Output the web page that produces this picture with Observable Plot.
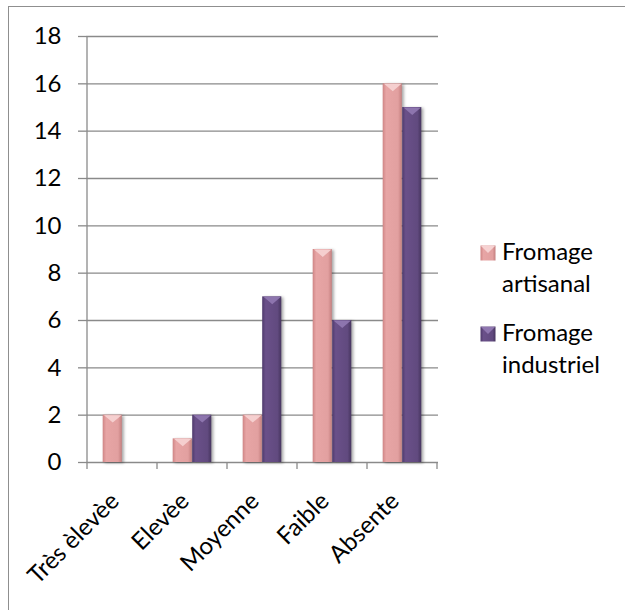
<!DOCTYPE html>
<html>
<head>
<meta charset="utf-8">
<script src="https://cdn.jsdelivr.net/npm/d3@7"></script>
<script src="https://cdn.jsdelivr.net/npm/@observablehq/plot@0.6"></script>
<style>
  html, body { margin: 0; padding: 0; background: #fff; overflow: hidden; }
  #wrap { position: relative; width: 625px; height: 610px; font-family: Lato, "Noto Sans", sans-serif; }
  #border { position: absolute; left: 8px; top: 6px; width: 700px; height: 700px;
            border: 1.4px solid #8f8f8f; box-sizing: border-box; }
  #chart { position: absolute; left: 0; top: 0; }
  #chart g[aria-label="bar"] { filter: drop-shadow(2px 1px 1.5px rgba(0,0,0,0.35)); }
  .legend-item { position: absolute; left: 480px; font-size: 24px; line-height: 32px; color: #000; }
  .legend-item svg { position: absolute; left: 0; }
  .legend-item span { position: absolute; left: 22px; top: 0; white-space: nowrap; }
</style>
</head>
<body>
<div id="wrap">
  <div id="border"></div>
  <div id="chart"></div>
</div>
<script>
// Intensité par catégorie, deux types de fromage
const categories = ["Très èlevèe", "Elevèe", "Moyenne", "Faible", "Absente"];
const seriesNames = ["Fromage artisanal", "Fromage industriel"];
const artisanal = [2, 1, 2, 9, 16];
const industriel = [0, 2, 7, 6, 15];
const yTicks = [0, 2, 4, 6, 8, 10, 12, 14, 16, 18];

const pinkStops = ["#cf8585", "#e7a5a5", "#e2a0a0", "#c47f7f"];
const purpleStops = ["#4f3a6c", "#6a5089", "#614a7f", "#47355f"];
const pinkTop = "#f6d2d2";
const purpleTop = "#8f77b0";

const rows = (values) => categories.map((c, i) => ({category: c, value: values[i]}));
const dataA = rows(artisanal);
const dataI = rows(industriel);

const W = 625, H = 610;
const mL = 86, mR = 187, mT = 36, mB = 148;
const bw = (W - mL - mR) / categories.length;
const barW = bw * 0.277;
const sideInset = (bw - 2 * barW) / 2;

// Downward triangle drawn on top of each bar (bevel highlight)
const bevel = {
  draw(context, size) {
    const r = Math.sqrt(size / Math.PI);
    context.moveTo(-r, 0);
    context.lineTo(r, 0);
    context.lineTo(0, r * 0.85);
    context.closePath();
  }
};

function gradientDefs() {
  const defs = d3.create("svg:defs");
  const add = (id, stops) => {
    const g = defs.append("linearGradient").attr("id", id)
      .attr("x1", "0").attr("x2", "1").attr("y1", "0").attr("y2", "0");
    [0, 0.18, 0.8, 1].forEach((o, k) => g.append("stop").attr("offset", o).attr("stop-color", stops[k]));
  };
  add("gPink", pinkStops);
  add("gPurple", purpleStops);
  return defs.node();
}

// Category axis: line at the left edge and tick marks at band boundaries
function categoryAxis(index, scales, values, dimensions) {
  const g = d3.create("svg:g").attr("stroke", "#8a8a8a").attr("stroke-width", 1.3);
  const x = scales.x;
  const step = x && x.bandwidth ? x.bandwidth() : bw;
  const starts = categories.map((c) => (x ? x(c) : NaN));
  const bounds = [...starts, starts[starts.length - 1] + step];
  const y0 = dimensions.height - dimensions.marginBottom;
  g.append("line").attr("x1", bounds[0]).attr("x2", bounds[0])
    .attr("y1", dimensions.marginTop).attr("y2", y0);
  bounds.forEach((b) => g.append("line").attr("x1", b).attr("x2", b).attr("y1", y0).attr("y2", y0 + 7));
  return g.node();
}

const chart = Plot.plot({
  width: W,
  height: H,
  marginLeft: mL,
  marginRight: mR,
  marginTop: mT,
  marginBottom: mB,
  style: {fontFamily: "Lato, 'Noto Sans', sans-serif", fontSize: "24px", color: "#000", background: "transparent"},
  x: {domain: categories, padding: 0, axis: null},
  y: {domain: [0, 18], axis: null, label: null},
  marks: [
    gradientDefs,
    Plot.gridY(yTicks, {stroke: "#8a8a8a", strokeOpacity: 1, strokeWidth: 1.3}),
    Plot.axisY(yTicks, {tickSize: 8, tickPadding: 17, stroke: "#8a8a8a", strokeWidth: 1.3, fontSize: 24, fill: "#000", label: null}),
    categoryAxis,
    Plot.barY(dataA.filter((d) => d.value > 0), {
      x: "category", y: "value", fill: "url(#gPink)",
      insetLeft: sideInset, insetRight: sideInset + barW
    }),
    Plot.barY(dataI.filter((d) => d.value > 0), {
      x: "category", y: "value", fill: "url(#gPurple)",
      insetLeft: sideInset + barW, insetRight: sideInset
    }),
    Plot.dot(dataA.filter((d) => d.value > 0), {
      x: "category", y: "value", symbol: bevel, r: barW / 2 - 1, dx: -barW / 2,
      fill: pinkTop, stroke: null, fillOpacity: 0.95
    }),
    Plot.dot(dataI.filter((d) => d.value > 0), {
      x: "category", y: "value", symbol: bevel, r: barW / 2 - 1, dx: barW / 2,
      fill: purpleTop, stroke: null, fillOpacity: 0.95
    }),
    Plot.text(categories, {
      x: (d) => d, frameAnchor: "bottom", dy: 40, dx: -2,
      rotate: -45, textAnchor: "end", fontSize: 24, fill: "#000"
    })
  ]
});
document.getElementById("chart").appendChild(chart);

// Legend to the right of the plot area
const legendItems = [
  {lines: ["Fromage", "artisanal"], stops: pinkStops, top: pinkTop, y: 235},
  {lines: ["Fromage", "industriel"], stops: purpleStops, top: purpleTop, y: 316}
];
const wrap = d3.select("#wrap");
legendItems.forEach((item, k) => {
  const div = wrap.append("div").attr("class", "legend-item").style("top", item.y + "px");
  const sw = div.append("svg").attr("width", 16).attr("height", 16).style("top", "10px");
  const gid = "lg" + k;
  const lg = sw.append("defs").append("linearGradient").attr("id", gid);
  [0, 0.2, 0.8, 1].forEach((o, j) => lg.append("stop").attr("offset", o).attr("stop-color", item.stops[j]));
  sw.append("rect").attr("x", 0.5).attr("y", 0.5).attr("width", 15).attr("height", 15).attr("fill", `url(#${gid})`);
  sw.append("path").attr("d", "M1,1 L15,1 L8,8 Z").attr("fill", item.top);
  div.append("span").html(item.lines.join("<br>"));
});
</script>
</body>
</html>
